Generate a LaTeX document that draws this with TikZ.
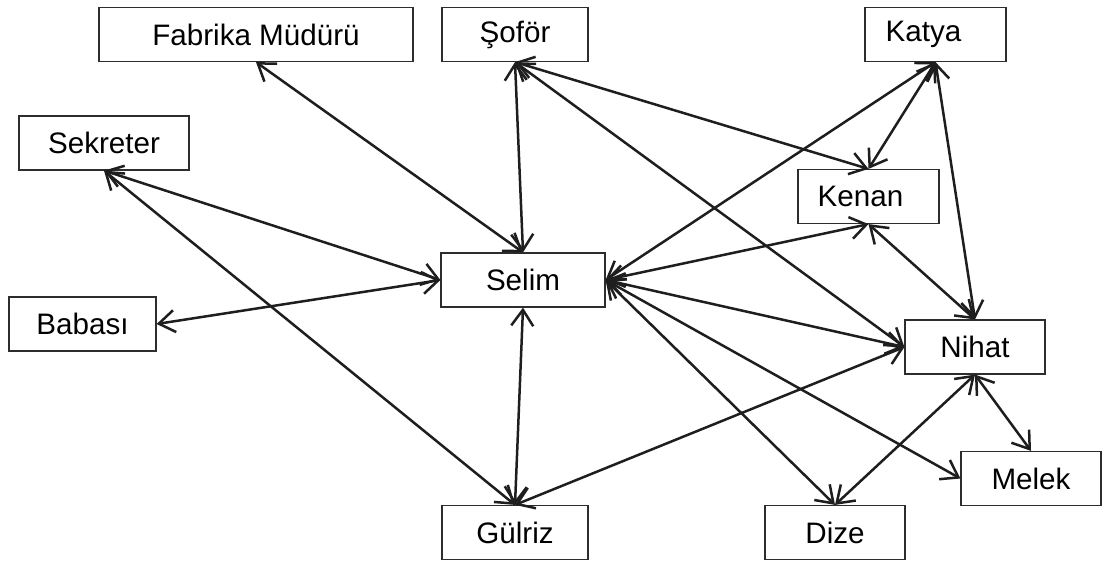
\documentclass[tikz,border=0pt]{standalone}
\usepackage{fontspec}
\setmainfont{Liberation Sans}
\usetikzlibrary{arrows.meta, positioning}
\definecolor{BoxGray}{RGB}{45, 45, 45}
\definecolor{LinkBlack}{RGB}{30, 30, 30}

\begin{document}
\begin{tikzpicture}[x=0.5pt, y=-0.5pt,
    person/.style={draw=BoxGray, line width=0.6pt, minimum height=27pt, inner sep=0pt,
      font=\fontsize{14.8}{17}\selectfont},
    link/.style={line width=1.25pt, LinkBlack,
      {Straight Barb[length=8pt, width=11pt]}-{Straight Barb[length=8pt, width=11pt]}}]
    \useasboundingbox (0,0) rectangle (1102,562);

    % People
    \node[person, minimum width=157pt] (fab) at (256,34.5) {Fabrika Müdürü};
    \node[person, minimum width=73pt] (sofor) at (515,34.5) {Şoför};
    \node[person, minimum width=70.5pt] (katya) at (935.5,34.5) {Katya\hspace*{12pt}};
    \node[person, minimum width=85pt] (sek) at (104,143) {Sekreter};
    \node[person, minimum width=70.5pt] (kenan) at (868.5,196.5) {Kenan\hspace*{8pt}};
    \node[person, minimum width=82pt] (selim) at (523,280) {Selim};
    \node[person, minimum width=73.5pt] (babasi) at (82.5,324) {Babası};
    \node[person, minimum width=70pt] (nihat) at (975,347) {Nihat};
    \node[person, minimum width=70pt] (melek) at (1031,478.5) {Melek};
    \node[person, minimum width=73pt] (gulriz) at (515,532.5) {Gülriz};
    \node[person, minimum width=70pt] (dize) at (835,532.5) {Dize};

    % Relations
    \foreach \a/\b in {fab.south/selim.north, sofor.south/selim.north,
        sek.south/selim.west, sek.south/gulriz.north, babasi.east/selim.west,
        selim.south/gulriz.north, gulriz.north/nihat.west,
        sofor.south/kenan.north, sofor.south/nihat.west,
        katya.south/selim.east, katya.south/kenan.north, katya.south/nihat.north,
        kenan.south/selim.east, kenan.south/nihat.north,
        selim.east/nihat.west, selim.east/dize.north, selim.east/melek.west,
        nihat.south/dize.north, nihat.south/melek.north} {
        \draw[link] (\a) -- (\b);
    }
\end{tikzpicture}
\end{document}
